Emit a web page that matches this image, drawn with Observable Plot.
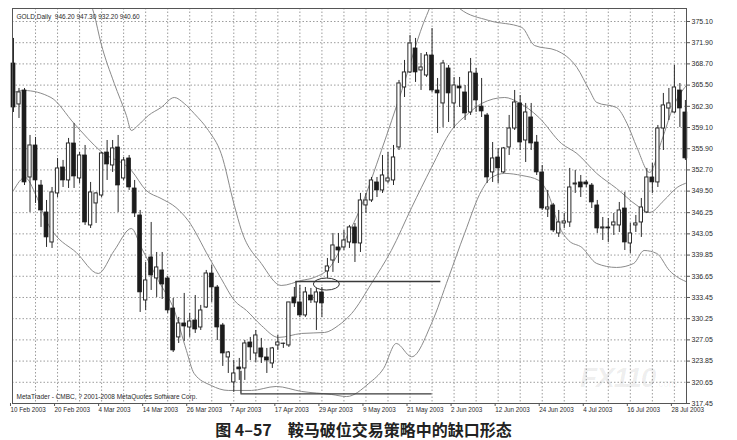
<!DOCTYPE html>
<html><head><meta charset="utf-8">
<script src="https://cdn.jsdelivr.net/npm/d3@7"></script>
<script src="https://cdn.jsdelivr.net/npm/@observablehq/plot@0.6"></script>
<style>
body{margin:0;background:#fff;width:737px;height:440px;overflow:hidden;position:relative;font-family:"Liberation Sans",Arial,sans-serif}
#caption{font-family:"Noto Sans CJK SC",sans-serif;font-weight:700;font-size:16px;line-height:20px;text-align:center;color:#222;margin-top:-2px;position:relative;left:-5px;white-space:pre}
#wm{position:absolute;left:580px;top:362px;font-family:"Liberation Sans",Arial,sans-serif;font-weight:700;font-style:italic;font-size:28px;color:rgba(0,0,0,0.07);letter-spacing:-1px;white-space:nowrap}
#wm span{font-size:10px;font-style:normal;font-weight:400;letter-spacing:0}
</style></head><body>
<div id="chart"></div>
<div id="caption">图 4–57　鞍马破位交易策略中的缺口形态</div>
<div id="wm">FX110<span>.com</span></div>
<script>
// ---- OHLC data (one bar per trading day, 10 Feb 2003 .. 30 Jul 2003) ----
const opens = [368.76,362.58,364.69,351.56,356.39,350.35,346.28,341.75,349.15,353.07,
351.11,356.69,351.41,354.88,344.32,347.64,348.84,355.33,353.37,356.09,
351.41,354.43,349.9,345.83,333.0,339.49,336.32,337.53,336.32,331.79,
327.42,329.53,328.92,329.98,328.92,331.94,337.07,334.96,329.23,324.4,
320.63,322.89,322.74,326.66,325.0,325.76,324.4,323.49,326.21,326.5,
326.21,333.45,332.7,330.74,333.75,332.7,334.21,337.38,339.03,341.0,
341.0,341.75,344.02,341.6,347.34,348.09,350.81,349.6,350.96,351.11,
356.09,365.14,367.41,371.03,367.71,366.95,369.97,364.69,362.73,368.01,
362.73,365.29,364.39,361.37,367.25,362.27,360.92,352.32,354.58,352.32,
356.09,358.95,362.73,357.14,360.62,356.84,352.32,346.73,347.34,343.11,
344.62,344.77,350.5,350.81,350.81,350.35,347.34,343.86,344.02,344.32,
344.32,346.88,341.6,344.32,344.77,346.28,351.56,350.81,358.95,361.97,
361.37,364.69,361.37];
const highs = [372.54,364.99,364.99,357.9,357.6,351.11,348.09,350.05,354.43,354.13,
357.45,359.71,355.33,356.39,350.81,349.3,355.33,357.14,357.14,357.9,
354.58,354.88,351.11,346.58,338.73,344.77,340.24,340.24,336.62,333.3,
330.44,334.06,331.04,333.75,332.25,337.53,338.28,335.26,329.53,325.3,
323.94,324.25,326.96,327.42,328.47,327.27,325.76,325.91,327.72,326.55,
332.7,334.96,335.26,334.96,334.81,334.81,334.96,339.34,343.11,343.11,
343.56,344.32,344.62,349.15,349.15,351.56,351.56,354.88,355.33,356.39,
366.2,369.22,372.99,372.54,370.27,370.42,374.04,366.5,369.22,368.46,
366.65,366.65,365.44,369.52,368.01,366.5,361.22,356.84,355.94,356.09,
360.92,364.69,363.93,362.73,362.73,357.9,353.37,349.6,347.64,346.58,
346.13,352.92,352.62,351.86,351.11,350.65,348.09,345.52,345.37,346.13,
347.79,349.3,344.62,345.83,348.39,352.92,353.67,359.41,364.24,364.99,
368.46,365.74,363.18];
const lows = [361.37,360.46,350.35,346.28,347.64,344.02,341.0,340.85,348.54,350.05,
349.9,349.9,350.65,344.32,343.86,344.62,348.54,351.11,352.32,346.28,
351.11,349.6,345.52,331.19,331.49,334.51,333.45,333.15,331.04,325.15,
326.51,326.81,327.42,328.02,328.47,331.79,332.7,326.96,323.04,321.98,
319.12,320.93,320.93,323.94,323.64,323.49,321.98,322.74,325.45,325.76,
325.91,331.94,330.44,330.44,332.55,328.47,330.44,336.32,337.23,338.58,
340.54,340.85,338.73,340.24,346.13,347.79,348.54,349.15,350.65,350.35,
355.63,363.63,367.25,365.9,364.69,366.65,364.39,358.2,359.11,359.86,
358.95,362.12,360.16,360.92,361.37,360.61,350.65,350.81,350.65,352.17,
354.88,358.65,355.63,353.82,355.63,351.86,346.58,345.52,343.26,342.51,
343.86,344.02,349.15,348.54,350.05,346.88,343.11,342.05,341.75,342.81,
343.26,340.54,340.09,343.26,342.51,346.13,349.15,350.05,355.63,360.16,
361.22,359.11,354.13];
const closes = [362.12,364.39,350.81,356.39,351.11,346.58,342.51,349.3,352.92,351.11,
356.69,351.71,354.88,344.77,349.3,349.15,355.18,353.52,355.94,350.35,
354.13,350.05,346.13,334.21,336.02,336.77,337.98,335.41,331.49,325.45,
329.53,329.07,329.83,328.62,331.49,337.07,334.96,328.92,325.0,325.15,
321.98,322.59,326.51,325.91,327.72,324.4,323.94,325.76,326.66,326.45,
332.7,332.55,330.74,334.21,333.0,334.21,332.55,338.13,341.3,340.54,
342.05,344.02,341.6,348.09,348.09,351.11,349.6,351.86,351.41,354.58,
365.75,367.41,371.78,367.41,368.16,369.97,364.69,364.24,368.76,364.24,
365.44,364.99,361.22,367.41,363.18,361.52,351.56,354.43,352.92,355.94,
358.95,362.88,356.84,361.37,356.69,352.32,346.88,347.03,343.56,344.77,
344.92,350.05,350.65,350.05,350.5,347.79,343.86,344.02,343.86,344.77,
346.58,341.75,343.11,344.62,347.03,351.56,350.81,358.95,362.43,362.73,
365.14,361.97,354.43];

// ---- Bollinger bands (bar position, price) ----
const upperIdx = [13,14.6,15.9,18.3,20.5,21.4,22.6,24.5,26.8,29.2,31.0,32.8,35.4,37.7,40.1,41.4,45.0,48.6,52.3,54.6,57.7,59.5,63.2,66.8,70.5,75.0,77.2,79.5,81.0,86.3,92.3,94.6,98.6,102.3,104.6,105.9,109.5,111.4,113.2,115.5,117.7,119.9,122.5];
const upperVal = [379.8,376.31,371.78,365.75,360.92,358.65,359.41,360.92,362.12,363.63,362.73,361.22,358.65,355.18,347.34,343.56,338.58,335.26,336.02,336.47,338.28,341.0,347.34,355.63,364.69,376.0,379.5,379.0,377.06,375.25,374.2,371.48,370.72,368.16,364.69,362.88,362.12,359.71,356.09,352.32,357.14,362.43,365.75];
const midIdx = [0,1.9,6.8,11.0,15.9,21.4,24.1,26.8,29.5,31.7,35.5,37.7,40.1,42.3,45.0,48.1,52.3,56.5,59.0,61.4,65.0,68.6,72.3,75.9,79.5,82.6,85.0,89.2,91.7,95.4,99.5,102.3,105.9,109.5,113.2,115.5,118.1,120.5,122.5];
const midVal = [364.39,364.69,363.63,359.71,355.48,352.62,349.6,348.39,347.03,345.07,339.49,336.32,333.0,331.49,329.23,327.42,328.02,328.17,329.23,331.04,335.57,340.54,347.03,353.07,358.65,361.22,362.73,363.63,362.88,360.62,356.69,355.18,352.17,349.9,347.34,346.28,348.09,350.05,350.81];
const lowIdx = [0,2.1,4.1,6.1,7.4,11.4,15.4,18.3,21.4,23.2,26.3,29.2,31.4,32.8,35.9,39.0,43.2,47.7,52.3,57.7,60.5,64.5,67.2,69.5,72.3,75.9,79.0,81.9,85.0,86.8,89.2,92.3,95.4,97.2,99.0,100.8,103.2,105.9,109.5,112.6,114.5,116.8,119.1,122.5];
const lowVal = [349.6,351.56,348.84,344.77,343.11,340.24,337.07,340.54,343.86,341.0,336.02,331.49,325.45,321.98,320.17,319.42,319.42,320.02,319.27,318.82,318.5,320.47,322.74,326.51,324.5,329.53,336.47,343.11,349.6,351.56,352.17,351.86,351.11,348.84,344.32,342.05,341.0,338.58,337.98,338.58,340.54,340.09,337.52,335.71];

// ---- axes ----
const yTicks = [375.10,371.90,368.70,365.50,362.30,359.10,355.90,352.70,349.50,346.25,343.05,339.85,336.65,333.45,330.25,327.05,323.85,320.65,317.45];
const yTickLabels = ["375.10","371.90","368.70","365.50","362.30","359.10","355.90","352.70","349.50","346.25","343.05","339.85","336.65","333.45","330.25","327.05","323.85","320.65","317.45"];
const xTickIdx = [0,8,16,24,32,40,48,56,64,72,80,88,96,104,112,120];
const xTickLabels = ["10 Feb 2003","20 Feb 2003","4 Mar 2003","14 Mar 2003","26 Mar 2003","7 Apr 2003","17 Apr 2003","29 Apr 2003","9 May 2003","21 May 2003","2 Jun 2003","12 Jun 2003","24 Jun 2003","4 Jul 2003","16 Jul 2003","28 Jul 2003"];
const gridIdx = [4,8,12,16,20,24,28,32,36,40,44,48,52,56,60,64,68,72,76,80,84,88,92,96,100,104,108,112,116,120];

// ---- hand-drawn annotations (gap level, bottom level, ellipse round the gap) ----
const hLines = [{y:335.87,x1:51.3,x2:77.6},{y:318.9,x1:41.3,x2:76.0}];
const vLines = [{x:51.3,y1:333.4,y2:335.87},{x:41.3,y1:318.9,y2:322.3}];
const gapEllipse = {bar:56.9, price:335.4};

const bars = opens.map((o,i)=>({i,open:o,high:highs[i],low:lows[i],close:closes[i]}));
const up = bars.filter(d=>d.close>=d.open);
const down = bars.filter(d=>d.close<d.open);
const band = (idx,val)=>idx.map((b,k)=>({i:b,v:val[k]}));
const yMap = new Map(yTicks.map((t,k)=>[t,yTickLabels[k]]));
const xMap = new Map(xTickIdx.map((t,k)=>[t,xTickLabels[k]]));

const plot = Plot.plot({
  width:737, height:421,
  marginTop:8, marginBottom:18, marginLeft:12, marginRight:51,
  style:{background:"transparent",fontFamily:"Liberation Sans, Arial, sans-serif",color:"#2a2a2a"},
  x:{domain:[-0.18,122.2],axis:null},
  y:{domain:[317.45,377.06],axis:null},
  marks:[
    Plot.gridY(yTicks,{stroke:"#9c9c9c",strokeOpacity:1,strokeDasharray:"1.5,2"}),
    Plot.gridX(gridIdx,{stroke:"#9c9c9c",strokeOpacity:1,strokeDasharray:"1.5,2"}),
    Plot.line(band(upperIdx,upperVal),{x:"i",y:"v",stroke:"#8a8a8a",strokeWidth:1,curve:"monotone-x",clip:true}),
    Plot.line(band(midIdx,midVal),{x:"i",y:"v",stroke:"#8a8a8a",strokeWidth:1,curve:"monotone-x",clip:true}),
    Plot.line(band(lowIdx,lowVal),{x:"i",y:"v",stroke:"#8a8a8a",strokeWidth:1,curve:"monotone-x",clip:true}),
    Plot.ruleY(hLines,{y:"y",x1:"x1",x2:"x2",stroke:"#3a3a3a",strokeWidth:1.4}),
    Plot.ruleX(vLines,{x:"x",y1:"y1",y2:"y2",stroke:"#3a3a3a",strokeWidth:1.4}),
    Plot.ruleX(bars,{x:"i",y1:"low",y2:"high",stroke:"#2a2a2a",strokeWidth:1}),
    Plot.rect(down,{x1:d=>d.i-0.36,x2:d=>d.i+0.36,y1:"open",y2:"close",fill:"#1c1c1c",stroke:"#1c1c1c",strokeWidth:0.7}),
    Plot.rect(up,{x1:d=>d.i-0.3,x2:d=>d.i+0.3,y1:"open",y2:"close",fill:"#ffffff",stroke:"#2a2a2a",strokeWidth:1}),
    Plot.frame({stroke:"#555"}),
    Plot.axisY(yTicks,{anchor:"right",tickFormat:d=>yMap.get(d),tickSize:3,tickPadding:2,fontSize:7,stroke:"#555"}),
    Plot.axisX(xTickIdx,{anchor:"bottom",tickFormat:d=>xMap.get(d),tickSize:3,tickPadding:1,textAnchor:"start",dx:-3,fontSize:6.3,stroke:"#555"}),
    Plot.text(["GOLD,Daily  946.20 947.30 932.20 940.60"],{frameAnchor:"top-left",dx:4,dy:6,fontSize:6.5,textAnchor:"start",fill:"#2a2a2a"}),
    Plot.text(["MetaTrader - CMBC, ? 2001-2008 MetaQuotes Software Corp."],{frameAnchor:"bottom-left",dx:4,dy:-5,fontSize:6.5,textAnchor:"start",fill:"#2a2a2a"})
  ]
});
document.getElementById("chart").appendChild(plot);

// ellipse drawn round the gap, placed through the plot's own scales
const sx = plot.scale("x"), sy = plot.scale("y");
const svg = plot.tagName.toLowerCase()==="svg" ? plot : plot.querySelector("svg");
const el = document.createElementNS("http://www.w3.org/2000/svg","ellipse");
el.setAttribute("cx", sx.apply(gapEllipse.bar));
el.setAttribute("cy", sy.apply(gapEllipse.price));
el.setAttribute("rx", 13);
el.setAttribute("ry", 6);
el.setAttribute("fill","none");
el.setAttribute("stroke","#333");
el.setAttribute("stroke-width","1");
svg.appendChild(el);
</script>
</body></html>
